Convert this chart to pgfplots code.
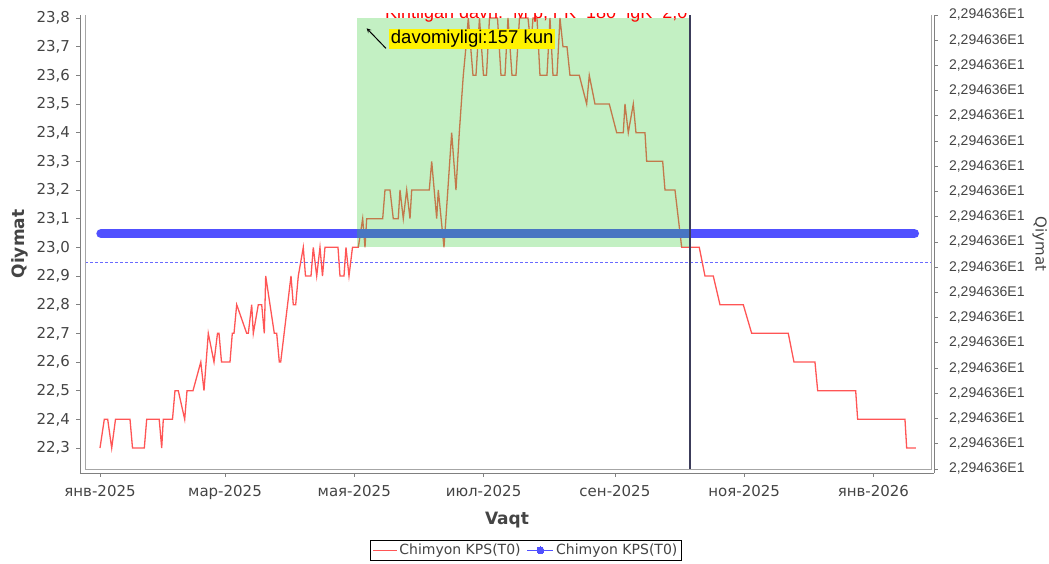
\documentclass[border=0pt]{standalone}
\usepackage{fontspec}
\setmainfont{DejaVu Sans}
\newfontfamily\libsans{Liberation Sans}
\usepackage{pgfplots}
\pgfplotsset{compat=1.18}
\definecolor{redline}{RGB}{255,85,85}
\definecolor{blueline}{RGB}{80,80,255}
\definecolor{greenfill}{RGB}{55,205,55}
\definecolor{ticktext}{RGB}{68,68,68}
\definecolor{axisgray}{RGB}{128,128,128}
\definecolor{vline}{RGB}{60,60,90}
\begin{document}
\begin{tikzpicture}
\begin{axis}[
  width=854pt, height=458pt, scale only axis,
  xmin=-9.44, xmax=393.6, ymin=22.2128, ymax=23.8105,
  axis x line*=bottom, axis y line*=left,
  axis line style={-, axisgray, line width=0.8pt},
  xtick={0,59,120,181,243,304,365},
  xticklabels={янв-2025,мар-2025,мая-2025,июл-2025,сен-2025,ноя-2025,янв-2026},
  ytick={22.3,22.4,22.5,22.6,22.7,22.8,22.9,23.0,23.1,23.2,23.3,23.4,23.5,23.6,23.7,23.8},
  yticklabel style={xshift=-3pt, /pgf/number format/.cd, use comma, fixed, fixed zerofill, precision=1, assume math mode=true},
  xticklabel style={yshift=-5pt},
  tick align=outside, major tick length=3.5pt,
  tick style={axisgray, line width=0.8pt},
  ticklabel style={font=\fontsize{15}{17}\selectfont, text=ticktext},
  xlabel={Vaqt}, ylabel={Qiymat},
  label style={font=\bfseries\fontsize{17}{19}\selectfont, text=ticktext},
  xlabel style={yshift=-6pt},
  ylabel style={yshift=2pt},
  legend style={at={(0.522,-0.1463)}, anchor=north, legend columns=2, draw=black, line width=0.6pt,
    font=\fontsize{14}{16}\selectfont, text=ticktext, inner sep=2pt,
    /tikz/every even column/.append style={column sep=4pt}},
]
\addplot[forget plot, blueline!85, dash pattern=on 2.5pt off 2.5pt, line width=0.8pt]
  coordinates {(-7.08,22.947) (392.2,22.947)};
\addplot[redline, line width=1.3pt,
  legend image code/.code={\draw[redline, line width=1.2pt] (0pt,0pt) -- (24pt,0pt);}]
  coordinates {
(0,22.3) (2.03,22.4) (3.63,22.4) (5.52,22.3) (7.31,22.4) (14.16,22.4) (15.34,22.3) (20.91,22.3)
(22.04,22.4) (27.94,22.4) (29.12,22.3) (29.87,22.4) (34.21,22.4) (35.39,22.5) (36.95,22.5) (39.97,22.4)
(41.06,22.5) (43.89,22.5) (47.57,22.6) (49.08,22.5) (51.11,22.7) (53.80,22.6) (55.45,22.7) (56.16,22.7)
(57.34,22.6) (61.35,22.6) (62.44,22.7) (63.24,22.7) (64.51,22.8) (69.23,22.7) (69.99,22.7) (71.59,22.8)
(72.35,22.7) (74.71,22.8) (76.31,22.8) (77.54,22.7) (78.20,22.9) (82.26,22.7) (83.39,22.7) (84.62,22.6)
(85.28,22.6) (90.14,22.9) (91.22,22.8) (92.35,22.8) (93.58,22.9) (95.94,23.0) (96.98,22.9) (99.58,22.9)
(100.66,23.0) (102.27,22.9) (103.82,23.0) (105.00,22.9) (106.18,23.0) (112.32,23.0) (113.26,22.9) (115.15,22.9)
(116.09,23.0) (117.51,22.9) (119.16,23.0) (120.81,23.0) (121.90,23.0) (123.97,23.1) (125.06,23.0) (125.86,23.1)
(133.41,23.1) (134.50,23.2) (136.86,23.2) (138.41,23.1) (140.77,23.1) (141.58,23.2) (143.13,23.1) (144.74,23.2)
(146.30,23.1) (147.10,23.2) (155.40,23.2) (156.54,23.3) (158.90,23.1) (159.65,23.2) (162.34,23.0) (165.97,23.4)
(168.00,23.2) (169.56,23.4) (170.50,23.5) (171.45,23.6) (172.72,23.7) (173.81,23.8) (176.03,23.6) (177.44,23.6)
(179.09,23.8) (180.98,23.6) (182.40,23.6) (183.81,23.8) (187.59,23.8) (189.24,23.6) (191.13,23.6) (192.54,23.8)
(194.43,23.6) (196.32,23.6) (197.97,23.8) (201.98,23.8) (203.40,23.7) (204.34,23.8) (206.23,23.8) (207.64,23.6)
(210.95,23.6) (212.36,23.8) (213.78,23.6) (215.67,23.6) (217.08,23.8) (218.50,23.7) (220.39,23.7) (221.80,23.6)
(226.19,23.6) (229.68,23.5) (230.91,23.6) (233.60,23.5) (240.35,23.5) (243.84,23.4) (246.96,23.4) (247.76,23.5)
(249.32,23.4) (251.68,23.5) (252.95,23.4) (257.20,23.4) (258.00,23.3) (265.55,23.3) (266.64,23.2) (271.36,23.2)
(274.52,23.0) (282.82,23.0) (285.51,22.9) (289.43,22.9) (292.59,22.8) (303.59,22.8) (307.55,22.7) (324.82,22.7)
(327.51,22.6) (337.42,22.6) (338.70,22.5) (356.63,22.5) (357.57,22.4) (379.90,22.4) (380.70,22.3) (385.09,22.3)
};
\addlegendentry{Chimyon KPS(T0)}
\addplot[blueline, line width=9.5pt, line cap=round,
  legend image code/.code={\draw[blueline, line width=1.5pt, line cap=butt] (0pt,0pt) -- (26pt,0pt); \fill[blueline, line width=0pt] (13pt,0pt) circle (3.5pt);}]
  coordinates {(0.5,23.048) (384.3,23.048)};
\addlegendentry{Chimyon KPS(T0)}
\fill[greenfill, opacity=0.3] (axis cs:121.3,23.0) rectangle (axis cs:278.4,23.8);
\draw[vline, line width=1.5pt] (axis cs:278.4,22.2267) -- (axis cs:278.4,23.8105);
\draw[axisgray!70, line width=0.6pt] (axis cs:-7.08,23.8105) -- (axis cs:-7.08,22.2267) -- (axis cs:392.2,22.2267) -- (axis cs:392.2,23.8105);
\coordinate (titlepos) at (axis cs:134.5,23.797);
\draw[-stealth, black, line width=1pt] (axis cs:134.97,23.694) -- (axis cs:125.86,23.764);
\node[anchor=west, fill=yellow, inner sep=1.5pt, font=\libsans\fontsize{18.5}{20}\selectfont, text=black] at (axis cs:136.5,23.7266) {davomiyligi:157 kun};
\end{axis}
\begin{scope}
\clip (0pt,0pt) rectangle (854pt,459pt);
\node[anchor=base west, text=red, font=\libsans\fontsize{18}{20}\selectfont, inner sep=0pt] at (titlepos) {Kiritilgan davri:\ \ M p, r K\ \ 180\ \ lgK\ \ 2,0};
\end{scope}
\begin{axis}[
  width=854pt, height=458pt, scale only axis,
  xmin=0, xmax=1, hide x axis,
  axis y line*=right,
  axis line style={-, axisgray, line width=0.8pt},
  ymin=-0.1586, ymax=18,
  ytick={0,1,2,3,4,5,6,7,8,9,10,11,12,13,14,15,16,17,18},
  yticklabel={2{,}294636E1},
  tick align=outside, major tick length=3.5pt,
  tick style={axisgray, line width=0.8pt},
  yticklabel style={xshift=8pt, font=\libsans\fontsize{14}{16}\selectfont, text=ticktext},
  ylabel={Qiymat},
  ylabel style={rotate=180, yshift=1pt, font=\fontsize{15}{17}\selectfont, text=ticktext},
]
\end{axis}
\pgfresetboundingbox
\path[use as bounding box] (-80pt,-90pt) rectangle (969pt,473pt);
\end{tikzpicture}
\end{document}
